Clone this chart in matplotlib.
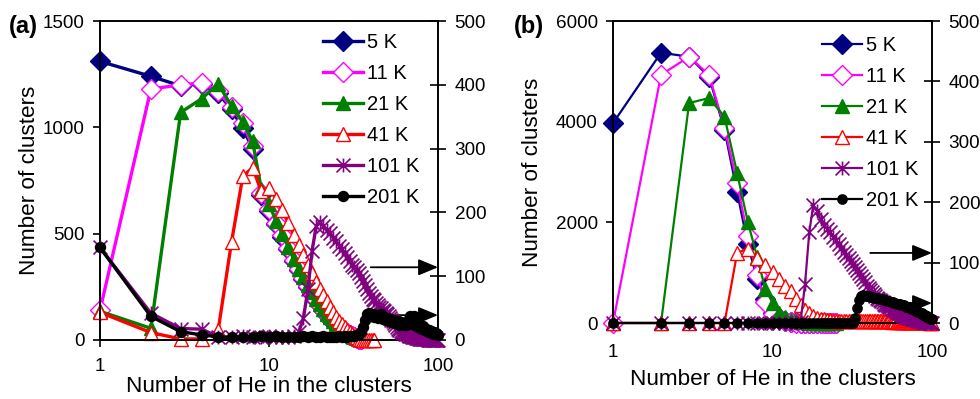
import numpy as np
import matplotlib
matplotlib.use("Agg")
import matplotlib.pyplot as plt
from matplotlib.path import Path

plt.rcParams['font.family'] = ['Liberation Sans', 'DejaVu Sans']

# ---------------- data ----------------
series_names = ["5 K", "11 K", "21 K", "41 K", "101 K", "201 K"]
x_ticks = [1, 10, 100]
x_tick_labels = ["1", "10", "100"]
yleft_ticks_a = [0, 500, 1000, 1500]
yleft_ticks_b = [0, 2000, 4000, 6000]
yright_ticks = [0, 100, 200, 300, 400, 500]

# Panel (a): values for n = 1, 2, 3, ...
a_5K = [1310, 1240, 1195, 1205, 1160, 1085, 995, 900, 680, 605,
        545, 485, 428, 372, 328, 288, 250, 218, 188, 163,
        140, 118, 100, 84, 70, 58, 47, 38, 30, 23,
        17, 12, 8, 5, 3]
a_11K = [140, 1180, 1200, 1208, 1170, 1095, 1020, 910, 690, 615,
         552, 492, 432, 377, 332, 292, 253, 221, 191, 166,
         143, 121, 103, 87, 73, 61, 50, 40, 32, 25,
         19, 14, 10, 7, 4]
a_21K = [135, 55, 1070, 1135, 1205, 1100, 1025, 935, 710, 640,
         560, 498, 438, 382, 336, 296, 258, 224, 194, 168,
         145, 124, 106, 89, 75, 62, 51, 42, 33, 26,
         20, 15, 10, 7, 4]
a_41K = [130, 35, 5, 5, 45, 460, 770, 810, 700, 715,
         665, 610, 550, 495, 445, 400, 355, 315, 275, 240,
         210, 182, 155, 130, 108, 90, 74, 60, 47, 36,
         27, 19, 12, 7, 4, 2, 1, 1, 0, 0, 0, 0]
a_101K = [145, 42, 18, 17, 5, 4, 6, 4, 5, 6,
          4, 5, 5, 6, 12, 35, 80, 140, 178, 185,
          178, 172, 168, 160, 155, 148, 142, 136, 130, 124,
          118, 114, 110, 105, 98, 92, 86, 80, 74, 69,
          65, 62, 58, 55, 52, 50, 47, 45, 43, 41,
          38, 35, 32, 29, 26, 23, 21, 18, 16, 14,
          13, 12, 11, 10, 9, 8, 7, 6, 6, 5,
          5, 4, 4, 3, 3, 3, 2, 2, 2, 2,
          1, 1, 1, 1, 1, 1, 0, 0, 0, 0,
          0, 0, 0, 0, 0, 0, 0, 0, 0, 0]
a_201K = [145, 37, 13, 8, 5, 4, 5, 4, 6, 5,
          7, 4, 4, 5, 4, 7, 5, 6, 4, 5,
          6, 5, 5, 4, 5, 6, 5, 6, 5, 6,
          7, 6, 8, 9, 12, 20, 32, 40, 42, 38,
          41, 36, 39, 34, 37, 40, 33, 36, 31, 35,
          30, 33, 28, 31, 26, 30, 27, 29, 24, 28,
          25, 27, 23, 26, 24, 28, 33, 38, 30, 25,
          27, 37, 26, 22, 24, 20, 23, 19, 21, 18,
          22, 17, 19, 15, 18, 14, 16, 13, 15, 12,
          14, 11, 13, 10, 12, 9, 11, 9, 10, 8]

# Panel (b)
b_5K = [3970, 5370, 5290, 4890, 3840, 2600, 1560, 880, 480, 200,
        90, 40, 20, 10, 5, 3, 2, 1, 1, 0, 0, 0, 0, 0, 0]
b_11K = [0, 4930, 5290, 4930, 3880, 2780, 1720, 950, 420, 170,
         70, 30, 15, 8, 4, 2, 1, 1, 0, 0, 0, 0, 0, 0, 0]
b_21K = [0, 0, 4370, 4470, 4100, 2980, 2010, 1320, 680, 400,
         200, 110, 60, 35, 20, 12, 8, 5, 3, 2, 1, 1, 0, 0, 0]
b_41K = [0, 0, 0, 0, 0, 1390, 1480, 1300, 1150, 1010,
         880, 740, 640, 480, 360, 260, 190, 130, 100, 80,
         70, 60, 55, 48, 45, 40, 42, 38, 35, 40,
         36, 33, 38, 45, 50, 44, 48, 42, 46, 40,
         44, 38, 42, 36, 40, 35, 39, 33, 37, 32,
         36, 31, 35, 30, 34, 29, 33, 28, 32, 27,
         31, 26, 30, 25, 29, 24, 28, 23, 27, 22,
         26, 21, 25, 20, 24, 19, 23, 18, 22, 17,
         21, 16, 20, 15, 19, 14, 18, 13, 17, 12,
         16, 11, 15, 10, 14, 9, 13, 8, 12, 7]
b_101K = [0, 0, 0, 0, 0, 0, 0, 0, 0, 0,
          0, 0, 0, 0, 2, 65, 150, 195, 185, 172,
          162, 156, 150, 143, 137, 130, 124, 118, 112, 107,
          102, 97, 93, 88, 83, 78, 73, 68, 62, 58,
          54, 51, 48, 45, 42, 40, 38, 36, 34, 32,
          30, 29, 28, 27, 26, 24, 23, 22, 20, 19,
          18, 17, 16, 15, 14, 13, 12, 11, 10, 10,
          9, 9, 8, 8, 7, 7, 6, 6, 5, 5,
          5, 4, 4, 4, 3, 3, 3, 2, 2, 2,
          2, 1, 1, 1, 1, 1, 0, 0, 0, 0]
b_201K = [0] * 32 + [8, 25, 38, 44, 46, 45, 44, 44,
          43, 43, 42, 42, 41, 41, 40, 40, 39, 38,
          38, 37, 36, 36, 35, 34, 34, 33, 33, 32,
          32, 31, 31, 30, 30, 29, 29, 28, 27, 27,
          26, 26, 25, 24, 24, 23, 22, 22, 21, 20,
          19, 19, 18, 17, 16, 16, 15, 14, 13, 13,
          12, 11, 11, 10, 9, 9, 8, 7, 7, 6]

# ---------------- styles ----------------
star = Path([(-1, -1), (1, 1), (-1, 1), (1, -1), (0, -1.0), (0, 1.0)],
            [Path.MOVETO, Path.LINETO] * 3)

colors = ["#000080", "#FF00FF", "#008000", "#FF0000", "#800080", "#000000"]
markers = ["D", "D", "^", "^", star, "o"]
mfcs = ["#000080", "white", "#008000", "white", "#800080", "#000000"]

FS_TICK = 13.6
FS_LAB = 16.2
FS_LEG = 14.5
fig = plt.figure(figsize=(9.8, 3.99), dpi=100)


def px(x0, y0, x1, y1):
    W, H = 980, 399
    return [x0 / W, 1 - y1 / H, (x1 - x0) / W, (y1 - y0) / H]


def panel(rect, left_data, right_data, ylim_left, yticks_left, lw, ms,
          legend_xy, arrows, label, label_xy, xlpad, ylpad, xtpad):
    ax = fig.add_axes(rect)
    ax2 = ax.twinx()
    ax.set_zorder(1)
    ax2.set_zorder(2)
    ax.patch.set_visible(False)
    ax2.patch.set_visible(False)
    handles = []
    for i, vals in enumerate(left_data):
        n = np.arange(1, len(vals) + 1)
        h, = ax.plot(n, vals, color=colors[i], lw=lw, marker=markers[i],
                     ms=ms[i], mfc=mfcs[i], mec=colors[i], mew=1.0,
                     clip_on=False, label=series_names[i])
        handles.append(h)
    for j, vals in enumerate(right_data):
        i = j + 4
        n = np.arange(1, len(vals) + 1)
        h, = ax2.plot(n, vals, color=colors[i], lw=lw, marker=markers[i],
                      ms=ms[i], mfc=mfcs[i], mec=colors[i], mew=1.2,
                      clip_on=False, label=series_names[i], zorder=3)
        handles.append(h)
    for a in (ax, ax2):
        a.set_xscale('log')
        a.set_xlim(1, 100)
        for s in a.spines.values():
            s.set_linewidth(1.2)
    ax.set_ylim(*ylim_left)
    ax.set_yticks(yticks_left)
    ax.set_yticklabels([str(t) for t in yticks_left])
    ax2.set_ylim(0, 500)
    ax2.set_yticks(yright_ticks)
    ax2.set_yticklabels([str(t) for t in yright_ticks])
    ax.set_xticks(x_ticks)
    ax.set_xticklabels(x_tick_labels)
    ax.xaxis.set_minor_locator(matplotlib.ticker.NullLocator())
    ax2.xaxis.set_minor_locator(matplotlib.ticker.NullLocator())
    ax.tick_params(axis='both', which='major', direction='out', length=5,
                   width=1.2, labelsize=FS_TICK, pad=6)
    ax.tick_params(axis='x', pad=xtpad)
    ax2.tick_params(axis='y', direction='inout', length=12, width=1.2,
                    labelsize=FS_TICK, pad=6)
    ax.set_xlabel("Number of He in the clusters", fontsize=FS_LAB, labelpad=xlpad)
    ax.set_ylabel("Number of clusters", fontsize=FS_LAB, labelpad=ylpad)
    for (xs, xe, yv) in arrows:
        ax2.annotate('', xy=(xe, yv), xytext=(xs, yv),
                     arrowprops=dict(arrowstyle='-|>,head_length=0.6,head_width=0.25',
                                     color='black', lw=1.3, mutation_scale=20,
                                     shrinkA=0, shrinkB=0),
                     annotation_clip=False, zorder=1)
    ax2.legend(handles=handles, loc='upper left', frameon=False,
               bbox_to_anchor=legend_xy, bbox_transform=fig.transFigure,
               fontsize=FS_LEG, handlelength=2.0, handletextpad=0.2,
               labelspacing=0.6, borderpad=0, borderaxespad=0)
    fig.text(label_xy[0], label_xy[1], label, fontsize=17,
             fontweight='bold', ha='left', va='center')
    return ax, ax2


panel(px(100, 21, 438, 340),
      [a_5K, a_11K, a_21K, a_41K], [a_101K, a_201K],
      (0, 1500), yleft_ticks_a, 2.4, [10, 10, 10.5, 10.5, 10, 7],
      (323 / 980, 1 - 33 / 399),
      [(40, 100, 114), (45, 100, 39)],
      "(a)", (9 / 980, 1 - 26 / 399), 1, 2, 8)

panel(px(613, 21, 932, 323),
      [b_5K, b_11K, b_21K, b_41K], [b_101K, b_201K],
      (0, 6000), yleft_ticks_b, 1.6, [10, 10, 10.5, 10.5, 10, 6.5],
      (822 / 980, 1 - 36 / 399),
      [(41, 100, 116), (50, 100, 33)],
      "(b)", (514 / 980, 1 - 27 / 399), 6, 9, 10)

fig.savefig("out.png", dpi=100)
